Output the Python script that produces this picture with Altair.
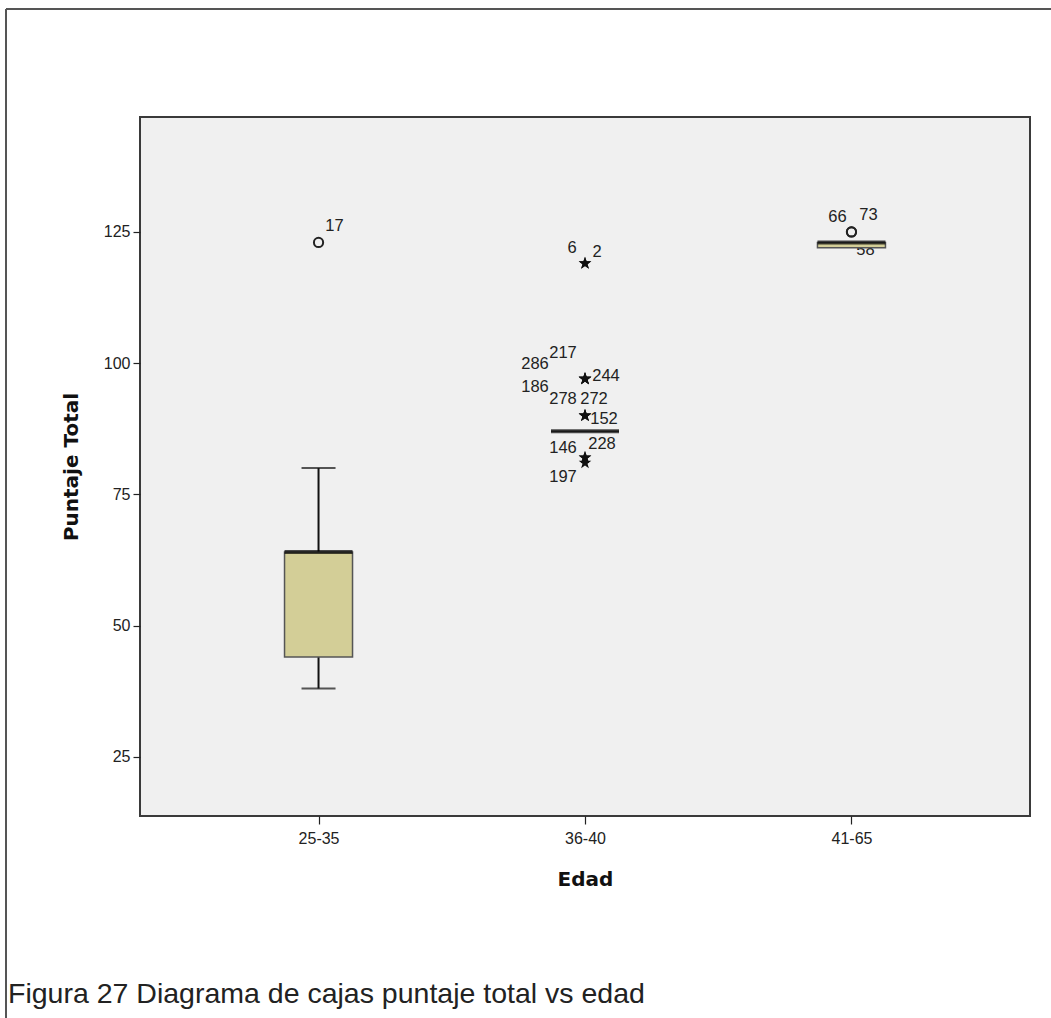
import altair as alt
import pandas as pd

# ---- data ----
categories = ["25-35", "36-40", "41-65"]
whisker_low = [38, 87, 122]
q1 = [44, 87, 122]
median = [64, 87, 123]
q3 = [64, 87, 123]
whisker_high = [80, 87, 123]

# mild outliers (circles)
out_cat = ["25-35", "41-65", "41-65"]
out_val = [123, 125, 125]

# extreme values (asterisks)
ext_cat = ["36-40"] * 12
ext_val = [119, 119, 97, 97, 97, 97, 90, 90, 90, 82, 82, 81]

# case labels
lab_text = ["17", "6", "2", "217", "286", "244", "186", "278", "272", "152",
            "146", "228", "197", "66", "73", "58"]
lab_cat = ["25-35", "36-40", "36-40", "36-40", "36-40", "36-40", "36-40", "36-40",
           "36-40", "36-40", "36-40", "36-40", "36-40", "41-65", "41-65", "41-65"]
lab_val = [123, 119, 119, 97, 97, 97, 97, 90, 90, 90, 82, 82, 81, 125, 125, 122]

y_ticks = [25, 50, 75, 100, 125]
caption = "Figura 27 Diagrama de cajas puntaje total vs edad"

# ---- label placement (style, kept apart from the data) ----
LABEL_OFFSETS = {
    "17": (16, -16), "6": (-13, -15), "2": (12, -11),
    "217": (-22, -26), "286": (-50, -15), "244": (21, -3), "186": (-50, 8),
    "278": (-22, -17), "272": (9, -17), "152": (19, 3),
    "146": (-22, -10), "228": (17, -14), "197": (-22, 14),
    "66": (-14, -15), "73": (17, -17), "58": (14, 2),
}

W, H = 890, 699
LEFT, TOP = 140, 117
TICK_FONT = "Liberation Sans"
TITLE_FONT = "DejaVu Sans"

box_df = pd.DataFrame({"Edad": categories, "low": whisker_low, "q1": q1,
                       "median": median, "q3": q3, "high": whisker_high})
out_df = pd.DataFrame({"Edad": out_cat, "v": out_val})
ext_df = pd.DataFrame({"Edad": ext_cat, "v": ext_val})

x_scale = alt.Scale(type="point", domain=categories, padding=0.67)
y_scale = alt.Scale(domain=[13.7, 146.9], nice=False, zero=False)

x_axis = alt.Axis(title="Edad", labelAngle=0, grid=False, domain=False,
                  tickSize=8, tickColor="#222", tickWidth=1.2,
                  labelFont=TICK_FONT, labelFontSize=16, labelColor="#222",
                  labelPadding=6,
                  titleFont=TITLE_FONT, titleFontSize=20, titleFontWeight="bold",
                  titleColor="#111", titleBaseline="alphabetic", titleY=69)
y_axis = alt.Axis(title="Puntaje Total", values=y_ticks, grid=False, domain=False,
                  tickSize=7, tickColor="#222", tickWidth=1.2,
                  labelFont=TICK_FONT, labelFontSize=16, labelColor="#222",
                  labelPadding=3,
                  titleFont=TITLE_FONT, titleFontSize=20, titleFontWeight="bold",
                  titleColor="#111", titleBaseline="alphabetic", titleX=-63,
                  titleAngle=-90)

X = alt.X("Edad:N", scale=x_scale, axis=x_axis)

base = alt.Chart(box_df)

whisk_low = base.mark_rule(color="#111", strokeWidth=2).encode(
    x=X, y=alt.Y("low:Q", scale=y_scale, axis=y_axis), y2="q1:Q")
whisk_high = base.mark_rule(color="#111", strokeWidth=2).encode(
    x=X, y=alt.Y("q3:Q", scale=y_scale), y2="high:Q")

caps_low = base.transform_filter("datum.low < datum.q1").mark_tick(
    color="#111", size=34, thickness=2).encode(x=X, y=alt.Y("low:Q", scale=y_scale))
caps_high = base.transform_filter("datum.high > datum.q3").mark_tick(
    color="#111", size=34, thickness=2).encode(x=X, y=alt.Y("high:Q", scale=y_scale))

boxes = base.mark_bar(size=68, color="#D3CE97", stroke="#555", strokeWidth=1.5).encode(
    x=X, y=alt.Y("q1:Q", scale=y_scale), y2="q3:Q")

medians = base.mark_tick(color="#000", size=68, thickness=4).encode(
    x=X, y=alt.Y("median:Q", scale=y_scale))

circles = alt.Chart(out_df).mark_point(shape="circle", filled=False, color="#222",
                                       strokeWidth=2, size=85, opacity=1).encode(
    x=X, y=alt.Y("v:Q", scale=y_scale))

STAR = ("M0,-1L0.235,-0.324L0.951,-0.309L0.380,0.124L0.588,0.809L0,0.4"
        "L-0.588,0.809L-0.380,0.124L-0.951,-0.309L-0.235,-0.324Z")
stars = alt.Chart(ext_df).mark_point(shape=STAR, filled=True, color="#111",
                                     size=175, opacity=1).encode(
    x=X, y=alt.Y("v:Q", scale=y_scale))

label_layers = []
for t, c, v in zip(lab_text, lab_cat, lab_val):
    dx, dy = LABEL_OFFSETS[t]
    label_layers.append(
        alt.Chart(pd.DataFrame({"Edad": [c], "v": [v], "t": [t]})).mark_text(
            font=TICK_FONT, fontSize=16.5, color="#222", dx=dx, dy=dy,
            align="center", baseline="middle").encode(
            x=X, y=alt.Y("v:Q", scale=y_scale), text="t:N"))

# outer figure frame and caption (decoration outside the plot area)
frame_top = alt.Chart(pd.DataFrame({"a": [0]})).mark_rule(color="#555", strokeWidth=2).encode(
    x=alt.value(6 - LEFT), x2=alt.value(1051 - LEFT), y=alt.value(9 - TOP))
frame_left = alt.Chart(pd.DataFrame({"a": [0]})).mark_rule(color="#555", strokeWidth=2).encode(
    x=alt.value(6 - LEFT), y=alt.value(9 - TOP), y2=alt.value(1018 - TOP))
cap_text = alt.Chart(pd.DataFrame({"t": [caption]})).mark_text(
    font=TICK_FONT, fontSize=28.5, color="#222", align="left", baseline="alphabetic").encode(
    x=alt.value(8 - LEFT), y=alt.value(1003 - TOP), text="t:N")

chart = alt.layer(
    *label_layers, whisk_low, whisk_high, caps_low, caps_high, boxes, medians,
    circles, stars, frame_top, frame_left, cap_text
).properties(
    width=W, height=H,
    autosize=alt.AutoSizeParams(type="none"),
    padding={"left": LEFT, "top": TOP, "right": 1051 - LEFT - W, "bottom": 1018 - TOP - H},
    background="white",
).configure_view(
    fill="#F0F0F0", stroke="#3a3a3a", strokeWidth=2
)

chart.save("out.html", embed_options={"renderer": "svg", "actions": False})
